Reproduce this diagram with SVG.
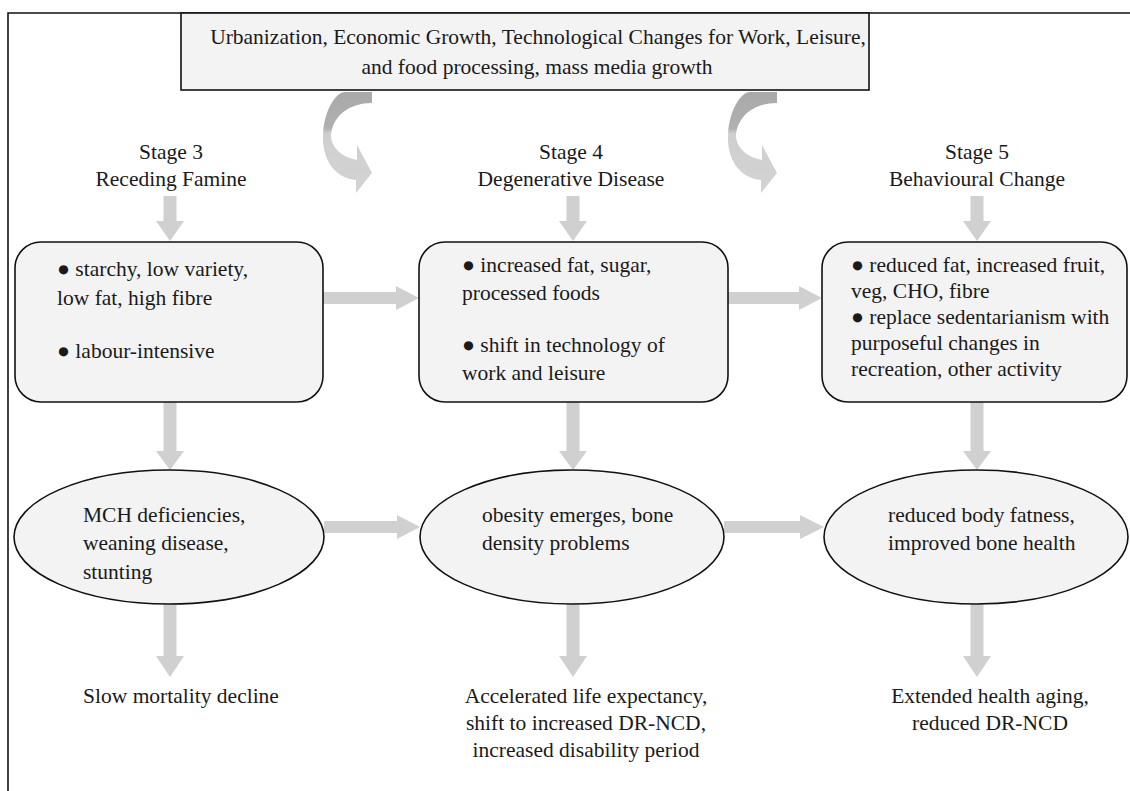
<svg xmlns="http://www.w3.org/2000/svg" width="1130" height="791" viewBox="0 0 1130 791">
<style>
text{font-family:"Liberation Serif","Times New Roman",serif;font-size:21.5px;fill:#1a1a1a}
.mid{text-anchor:middle}
.box{fill:#f3f3f3;stroke:#111;stroke-width:1.6}
.arr{fill:#d0d0d0;stroke:none}
.frame{fill:none;stroke:#111;stroke-width:1.6}
</style>
<defs>
<linearGradient id="cg" x1="0" y1="0" x2="0" y2="1">
<stop offset="0" stop-color="#a9a9a9"/>
<stop offset="0.36" stop-color="#b0b0b0"/>
<stop offset="0.41" stop-color="#cfcfcf"/>
<stop offset="1" stop-color="#d3d3d3"/>
</linearGradient>
</defs>
<rect width="1130" height="791" fill="#fff"/>
<path class="frame" d="M8,791 L8,13 L1130,13"/>

<g id="top">
<rect class="box" x="181" y="13" width="688" height="77"/>
<text class="mid" x="538" y="44">Urbanization, Economic Growth, Technological Changes for Work, Leisure,</text>
<text class="mid" x="537" y="74">and food processing, mass media growth</text>
</g>

<g id="connectors">
<path fill="url(#cg)" d="M372,92 L372,103 C350,103 333,115 331,135 C331,148 342,157 357,160 L357,145 L372,173 L356,193 L356,180 C335,178 322,160 323,135 C324,110 336,92 345,92 Z"/>
<path fill="url(#cg)" d="M777,92 L777,103 C755,103 738,115 736,135 C736,148 747,157 762,160 L762,145 L777,173 L761,193 L761,180 C740,178 727,160 728,135 C729,110 741,92 750,92 Z"/>
<polygon class="arr" points="163.5,196 176.5,196 176.5,221 184,221 170,241 156,221 163.5,221"/>
<polygon class="arr" points="566.5,196 579.5,196 579.5,221 587,221 573,241 559,221 566.5,221"/>
<polygon class="arr" points="970.5,196 983.5,196 983.5,221 991,221 977,241 963,221 970.5,221"/>
<polygon class="arr" points="323,292 396,292 396,286 419,298 396,310 396,304 323,304"/>
<polygon class="arr" points="728,292 799,292 799,286 822,298 799,310 799,304 728,304"/>
<polygon class="arr" points="163.5,402 176.5,402 176.5,451 184,451 170,470 156,451 163.5,451"/>
<polygon class="arr" points="566.5,402 579.5,402 579.5,451 587,451 573,470 559,451 566.5,451"/>
<polygon class="arr" points="970.5,402 983.5,402 983.5,451 991,451 977,470 963,451 970.5,451"/>
<polygon class="arr" points="324,521 397,521 397,515 420,527 397,539 397,533 324,533"/>
<polygon class="arr" points="724,521 800,521 800,515 824,527 800,539 800,533 724,533"/>
<polygon class="arr" points="163.5,604 176.5,604 176.5,656 184,656 170,677 156,656 163.5,656"/>
<polygon class="arr" points="566.5,604 579.5,604 579.5,656 587,656 573,677 559,656 566.5,656"/>
<polygon class="arr" points="970.5,604 983.5,604 983.5,656 991,656 977,677 963,656 970.5,656"/>
</g>

<g id="stage3">
<text class="mid" x="171" y="159">Stage 3</text>
<text class="mid" x="171" y="186">Receding Famine</text>
</g>
<g id="stage4">
<text class="mid" x="571" y="159">Stage 4</text>
<text class="mid" x="571" y="186">Degenerative Disease</text>
</g>
<g id="stage5">
<text class="mid" x="977" y="159">Stage 5</text>
<text class="mid" x="977" y="186">Behavioural Change</text>
</g>

<g id="box3">
<rect class="box" x="15" y="242" width="308" height="160" rx="26"/>
<text x="57" y="276">● starchy, low variety,</text>
<text x="57" y="305">low fat, high fibre</text>
<text x="57" y="358">● labour-intensive</text>
</g>
<g id="box4">
<rect class="box" x="419" y="242" width="309" height="160" rx="26"/>
<text x="462" y="272">● increased fat, sugar,</text>
<text x="462" y="300">processed foods</text>
<text x="462" y="352">● shift in technology of</text>
<text x="462" y="380">work and leisure</text>
</g>
<g id="box5">
<rect class="box" x="822" y="242" width="305" height="160" rx="26"/>
<text x="851" y="272">● reduced fat, increased fruit,</text>
<text x="851" y="298">veg, CHO, fibre</text>
<text x="851" y="324">● replace sedentarianism with</text>
<text x="851" y="350">purposeful changes in</text>
<text x="851" y="376">recreation, other activity</text>
</g>

<g id="ell3">
<ellipse class="box" cx="169" cy="537" rx="155" ry="67"/>
<text x="83" y="522">MCH deficiencies,</text>
<text x="83" y="550">weaning disease,</text>
<text x="83" y="579">stunting</text>
</g>
<g id="ell4">
<ellipse class="box" cx="572" cy="537" rx="152" ry="67"/>
<text x="482" y="522">obesity emerges, bone</text>
<text x="482" y="550">density problems</text>
</g>
<g id="ell5">
<ellipse class="box" cx="976" cy="537" rx="152" ry="67"/>
<text x="888" y="522">reduced body fatness,</text>
<text x="888" y="550">improved bone health</text>
</g>

<g id="out3">
<text class="mid" x="181" y="703">Slow mortality decline</text>
</g>
<g id="out4">
<text class="mid" x="586" y="703">Accelerated life expectancy,</text>
<text class="mid" x="586" y="730">shift to increased DR-NCD,</text>
<text class="mid" x="586" y="757">increased disability period</text>
</g>
<g id="out5">
<text class="mid" x="990" y="703">Extended health aging,</text>
<text class="mid" x="990" y="730">reduced DR-NCD</text>
</g>
</svg>
